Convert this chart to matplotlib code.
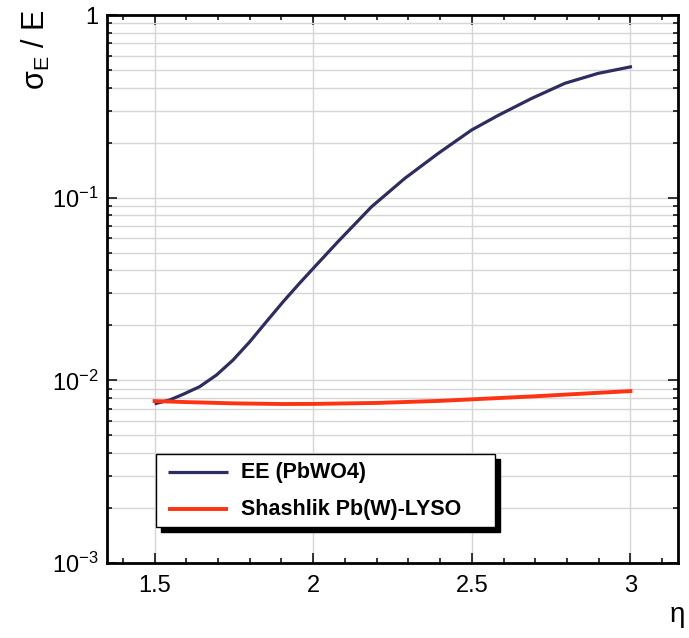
import matplotlib
matplotlib.use("Agg")
import matplotlib.pyplot as plt
from matplotlib.ticker import LogLocator, FixedLocator, MultipleLocator, NullFormatter
from matplotlib.patches import Rectangle

plt.rcParams['font.family'] = ['Liberation Sans', 'DejaVu Sans']
plt.rcParams['mathtext.fontset'] = 'custom'
plt.rcParams['mathtext.rm'] = 'Liberation Sans'
plt.rcParams['mathtext.it'] = 'Liberation Sans:italic'

# EE (PbWO4) resolution vs eta
eta_ee = [1.505, 1.547, 1.589, 1.642, 1.695, 1.747, 1.800, 1.852, 1.905, 1.957, 2.010,
          2.078, 2.184, 2.289, 2.394, 2.499, 2.583, 2.688, 2.793, 2.898, 3.000]
res_ee = [0.00748, 0.0078, 0.00837, 0.00923, 0.01069, 0.0129, 0.01626, 0.0209, 0.0269, 0.0340, 0.0428,
          0.0574, 0.0892, 0.1276, 0.1747, 0.2344, 0.282, 0.349, 0.4225, 0.479, 0.520]

# Shashlik Pb(W)-LYSO
eta_sh = [1.50, 1.60, 1.75, 1.90, 2.00, 2.20, 2.40, 2.50, 2.70, 2.90, 3.00]
res_sh = [0.0077, 0.00760, 0.00748, 0.00742, 0.00743, 0.00752, 0.00772, 0.00787, 0.00818, 0.00855, 0.00873]

labels = ['EE (PbWO4)', 'Shashlik Pb(W)-LYSO']
colors = ['#2d2d62', '#ff3311']

fig = plt.figure(figsize=(6.89, 6.38), dpi=100)
ax = fig.add_axes([107 / 689, 75 / 638, 571 / 689, 548 / 638])

ax.plot(eta_ee, res_ee, color=colors[0], lw=2.3, zorder=3)
ax.plot(eta_sh, res_sh, color=colors[1], lw=2.8, zorder=3)

ax.set_yscale('log')
ax.set_xlim(1.35, 3.15)
ax.set_ylim(1e-3, 1)

ax.xaxis.set_major_locator(FixedLocator([1.5, 2, 2.5, 3]))
ax.xaxis.set_minor_locator(MultipleLocator(0.1))
ax.set_xticklabels(['1.5', '2', '2.5', '3'])
ax.yaxis.set_major_locator(FixedLocator([1e-3, 1e-2, 1e-1, 1]))
ax.set_yticklabels([r'$10^{-3}$', r'$10^{-2}$', r'$10^{-1}$', '1'])
ax.yaxis.set_minor_locator(LogLocator(base=10, subs=range(2, 10)))
ax.yaxis.set_minor_formatter(NullFormatter())

ax.tick_params(which='both', direction='in', top=True, right=True, width=1.1, labelsize=17)
ax.tick_params(which='major', length=7.5)
ax.tick_params(which='minor', length=3.8)
ax.tick_params(axis='x', pad=9)
ax.tick_params(axis='y', pad=6)
for s in ax.spines.values():
    s.set_linewidth(2)

ax.grid(True, which='major', axis='x', color='#d6d6d6', lw=1)
ax.grid(True, which='both', axis='y', color='#d6d6d6', lw=1)
ax.set_axisbelow(True)

fig.text(0.052, 0.985, r'σ$_{\mathrm{E}}$ / E', rotation=90, ha='center', va='top', fontsize=22)
fig.text(0.983, 0.015, 'η', ha='center', va='bottom', fontsize=20)

# legend box with shadow, drawn by hand
lx0, ly0, lw_, lh_ = 0.085, 0.066, 0.595, 0.133
ax.add_patch(Rectangle((lx0 + 0.009, ly0 - 0.009), lw_, lh_, transform=ax.transAxes,
                       facecolor='black', edgecolor='black', zorder=4))
ax.add_patch(Rectangle((lx0, ly0), lw_, lh_, transform=ax.transAxes,
                       facecolor='white', edgecolor='black', lw=1, zorder=5))
for i, ypos in enumerate([0.166, 0.0985]):
    ax.plot([0.106, 0.2125], [ypos, ypos], transform=ax.transAxes, color=colors[i],
            lw=2.3 if i == 0 else 2.8, zorder=6, solid_capstyle='butt')
    ax.text(0.2347, ypos, labels[i], transform=ax.transAxes, fontsize=15.5,
            fontweight='bold', va='center', ha='left', zorder=6)

fig.savefig('out.png', dpi=100)
